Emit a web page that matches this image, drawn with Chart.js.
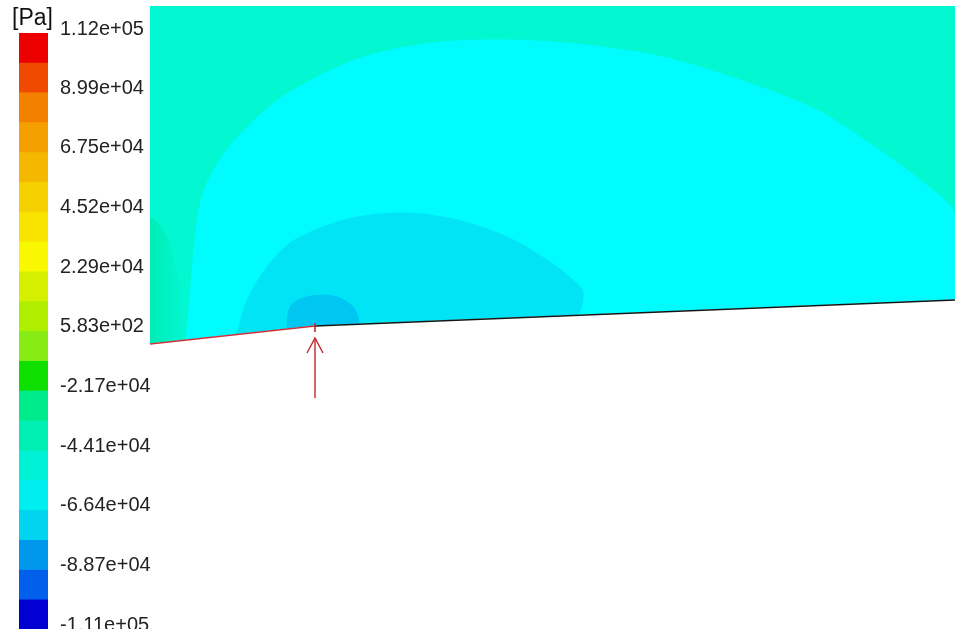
<!DOCTYPE html>
<html>
<head>
<meta charset="utf-8">
<script src="https://cdn.jsdelivr.net/npm/chart.js@4/dist/chart.umd.min.js"></script>
<style>
  body { margin: 0; background: #fff; }
  #wrap { position: relative; width: 955px; height: 629px; overflow: hidden; }
  #legendBar { position: absolute; left: 0; top: 0; z-index: 2; }
  #field { position: absolute; left: 150px; top: 0; z-index: 1; }
</style>
</head>
<body>
<div id="wrap">
  <canvas id="legendBar" width="160" height="629"></canvas>
  <canvas id="field" width="805" height="629"></canvas>
</div>
<script>
// colour legend: pressure levels [Pa]
const tickValues = [112000, 89900, 67500, 45200, 22900, 583, -21700, -44100, -66400, -88700, -111000];
const bandEdges = [112000, 100950, 89900, 78700, 67500, 56350, 45200, 34050, 22900, 11740, 583,
                   -10560, -21700, -32900, -44100, -55250, -66400, -77550, -88700, -99850, -111000];
const bandColors = [
    '#EC0000', '#F04A00', '#F48000', '#F5A000', '#F5B800',
    '#F5D000', '#F8E400', '#FAF800', '#D4F000', '#B0EE00',
    '#86EC14', '#10E000', '#00EC8C', '#00F0B4', '#00F2D6',
    '#00EEF0', '#00D4EE', '#0098EC', '#0060EC', '#0000D2'
];

// flow domain (x along wall, y normal to it), units of 100 px
const domainRight = 8.05;
const domainTop = 6.23;
const wallX = [0, 1.65, 8.05];
const wallY = [2.85, 3.03, 3.29];

// pressure contour bands, outline of each level
const cyanX = [0.36, 0.38, 0.51, 0.77, 1.28, 2.05, 2.82, 3.59, 4.36, 5.13, 5.90, 6.67, 7.19, 7.70, 8.05, 8.05, 1.65, 0.36];
const cyanY = [2.89, 3.09, 4.29, 4.79, 5.29, 5.69, 5.86, 5.89, 5.84, 5.72, 5.49, 5.19, 4.86, 4.49, 4.14, 3.29, 3.03, 2.89];
const midX = [0.87, 0.97, 1.17, 1.40, 1.73, 2.07, 2.57, 3.07, 3.57, 3.97, 4.23, 4.33, 4.25, 1.65, 0.87];
const midY = [2.95, 3.29, 3.62, 3.86, 4.02, 4.12, 4.16, 4.09, 3.92, 3.69, 3.49, 3.36, 3.14, 3.03, 2.95];
const coreX = [1.37, 1.40, 1.53, 1.73, 1.90, 2.03, 2.08, 2.08, 1.65, 1.37];
const coreY = [3.00, 3.22, 3.31, 3.34, 3.31, 3.22, 3.12, 3.05, 3.03, 3.00];
// shaded strip along the inlet
const inletX = [0, 0, 0.16, 0.37, 0.36, 0];
const inletY = [2.85, 4.10, 3.95, 3.10, 2.89, 2.85];

// arrow pointing at the wall kink
const arrowX = [1.65, 1.65];
const arrowY = [2.31, 2.91];
const headX = [1.57, 1.65, 1.73];
const headY = [2.76, 2.91, 2.76];
const markX = [1.65, 1.65];
const markY = [2.97, 3.06];

const pts = (xs, ys) => xs.map((x, i) => ({ x: x, y: ys[i] }));

function sci(v) {
    const parts = v.toExponential(2).split('e');
    const n = parseInt(parts[1], 10);
    return parts[0] + 'e' + (n < 0 ? '-' : '+') + String(Math.abs(n)).padStart(2, '0');
}

const unitLabel = {
    id: 'unitLabel',
    afterDraw(chart) {
        const ctx = chart.ctx;
        ctx.save();
        ctx.font = '23px "Liberation Sans"';
        ctx.fillStyle = '#111';
        ctx.textBaseline = 'top';
        ctx.fillText('[Pa]', 12, 7);
        ctx.restore();
    }
};

new Chart(document.getElementById('legendBar'), {
    type: 'bar',
    data: {
        labels: ['p'],
        datasets: bandColors.map((c, i) => ({
            data: [[bandEdges[i + 1], bandEdges[i]]],
            backgroundColor: c,
            borderWidth: 0,
            barPercentage: 1,
            categoryPercentage: 1,
            grouped: false
        }))
    },
    options: {
        responsive: false,
        animation: false,
        devicePixelRatio: 1,
        layout: { padding: { left: 19, top: 33, right: 0, bottom: 0 } },
        plugins: { legend: { display: false }, tooltip: { enabled: false } },
        scales: {
            x: { display: false },
            y: {
                position: 'right',
                min: -111000,
                max: 112000,
                grid: { display: false, drawTicks: false },
                border: { display: false },
                afterFit: (scale) => {
                    scale.width = 112;
                    scale.paddingTop = 0;
                    scale.paddingBottom = 0;
                },
                afterBuildTicks: (scale) => { scale.ticks = tickValues.map(v => ({ value: v })); },
                ticks: {
                    autoSkip: false,
                    padding: 12,
                    labelOffset: -4,
                    color: '#222',
                    font: { family: 'Liberation Sans', size: 20 },
                    callback: (value) => sci(value)
                }
            }
        }
    },
    plugins: [unitLabel]
});

function region(xs, ys, color, order) {
    return {
        data: pts(xs, ys),
        showLine: true,
        fill: 'shape',
        backgroundColor: color,
        borderColor: color,
        borderWidth: 1,
        pointRadius: 0,
        tension: 0.3,
        order: order
    };
}

function stroke(xs, ys, color, width, order) {
    return {
        data: pts(xs, ys),
        showLine: true,
        fill: false,
        borderColor: color,
        borderWidth: width,
        pointRadius: 0,
        tension: 0,
        order: order
    };
}

// greener at the inlet, fading into the free-stream level
function inletShade(context) {
    const area = context.chart.chartArea;
    if (!area) return '#03F8D2';
    const g = context.chart.ctx.createLinearGradient(area.left, 0, area.left + 36, 0);
    g.addColorStop(0, '#00ECB6');
    g.addColorStop(1, '#03F8D2');
    return g;
}

const outerX = [0, domainRight].concat(wallX.slice().reverse(), [0]);
const outerY = [domainTop, domainTop].concat(wallY.slice().reverse(), [domainTop]);
const solidX = wallX.concat([domainRight, 0, 0]);
const solidY = wallY.concat([0, 0, wallY[0]]);

const outer = region(outerX, outerY, '#03F8D2', 10);
outer.tension = 0;
const inlet = region(inletX, inletY, '#03F8D2', 9.5);
inlet.backgroundColor = inletShade;
inlet.borderColor = 'rgba(0,0,0,0)';
inlet.borderWidth = 0;
const solid = region(solidX, solidY, '#FFFFFF', 5);
solid.tension = 0;

new Chart(document.getElementById('field'), {
    type: 'scatter',
    data: {
        datasets: [
            outer,
            inlet,
            region(cyanX, cyanY, '#00FCFE', 9),
            region(midX, midY, '#00E4F6', 8),
            region(coreX, coreY, '#00C6F2', 7),
            solid,
            stroke(wallX.slice(0, 2), wallY.slice(0, 2), '#C8303A', 1.6, 2),
            stroke(wallX.slice(1), wallY.slice(1), '#151515', 1.6, 2),
            stroke(arrowX, arrowY, '#C0282D', 1.4, 1),
            stroke(headX, headY, '#C0282D', 1.4, 1),
            stroke(markX, markY, '#C0282D', 1.6, 1)
        ]
    },
    options: {
        responsive: false,
        animation: false,
        devicePixelRatio: 1,
        layout: { padding: { top: 6, left: 0, right: 0, bottom: 0 } },
        plugins: { legend: { display: false }, tooltip: { enabled: false } },
        scales: {
            x: { type: 'linear', display: false, min: 0, max: domainRight },
            y: { type: 'linear', display: false, min: 0, max: domainTop }
        }
    }
});
</script>
</body>
</html>
